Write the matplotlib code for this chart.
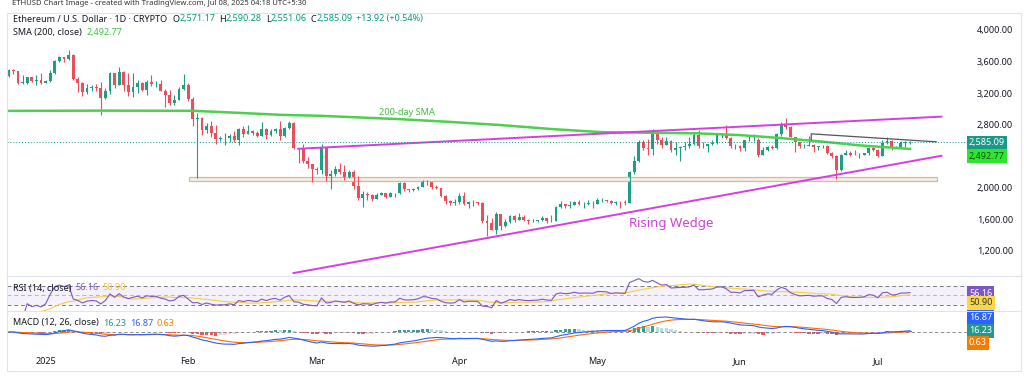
import numpy as np
import pandas as pd
import matplotlib
matplotlib.use("Agg")
import matplotlib.pyplot as plt
import matplotlib.patches as patches

plt.rcParams['font.family'] = ['Noto Sans', 'DejaVu Sans']

# ETH/USD daily candles, 24 Dec 2024 .. 8 Jul 2025 (open = previous close)
first_open = 3418
close = [3492, 3480, 3330, 3333, 3398, 3352, 3361, 3333,
         3355, 3452, 3607, 3657, 3636, 3686, 3381, 3328, 3219, 3266, 3282, 3267, 3135, 3225, 3450, 3307, 3473, 3308, 3216, 3280, 3330, 3241, 3340, 3310, 3315, 3230, 3180, 3080, 3110, 3250, 3300,
         3120, 2869, 2880, 2730, 2786, 2690, 2620, 2630, 2630, 2660, 2600, 2740, 2680, 2720, 2690, 2660, 2740, 2670, 2720, 2740, 2660, 2760, 2820, 2510, 2490, 2340, 2300, 2240,
         2220, 2520, 2150, 2170, 2240, 2200, 2140, 2200, 2020, 1870, 1920, 1910, 1860, 1910, 1940, 1890, 1930, 1930, 2060, 1980, 1970, 1980, 2010, 2080, 2070, 2010, 2000, 1900, 1830, 1810, 1820,
         1900, 1795, 1815, 1815, 1805, 1580, 1555, 1470, 1670, 1520, 1570, 1645, 1595, 1625, 1590, 1575, 1585, 1590, 1615, 1585, 1575, 1755, 1795, 1770, 1785, 1820, 1795, 1800, 1800, 1795,
         1840, 1840, 1835, 1805, 1820, 1815, 1810, 2200, 2345, 2580, 2510, 2490, 2680, 2610, 2545, 2590, 2480, 2500, 2520, 2525, 2550, 2665, 2525, 2530, 2550, 2565, 2665, 2680, 2630, 2530, 2530,
         2510, 2600, 2600, 2610, 2420, 2480, 2520, 2510, 2680, 2815, 2770, 2645, 2575, 2525, 2535, 2545, 2515, 2525, 2525, 2440, 2405, 2230, 2420, 2445, 2420, 2415, 2420, 2435, 2500, 2485,
         2405, 2570, 2590, 2505, 2515, 2570, 2571.17, 2585.09]
high = [3510, 3510, 3480, 3430, 3410, 3410, 3430, 3450,
        3370, 3495, 3617, 3670, 3660, 3745, 3700, 3410, 3340, 3320, 3300, 3310, 3340, 3260, 3470, 3450, 3525, 3480, 3450, 3450, 3360, 3345, 3360, 3430, 3350, 3370, 3250, 3240, 3170, 3280, 3440,
        3330, 3150, 2950, 2900, 2820, 2850, 2790, 2660, 2700, 2680, 2720, 2760, 2780, 2790, 2730, 2720, 2840, 2760, 2740, 2760, 2850, 2770, 2850, 2830, 2510, 2560, 2390, 2300,
        2260, 2550, 2520, 2220, 2280, 2320, 2290, 2230, 2220, 2150, 1960, 1950, 1920, 1940, 1950, 1940, 1950, 1935, 2070, 2070, 1990, 2000, 2020, 2100, 2100, 2075, 2030, 2000, 1910, 1850, 1860,
        1930, 1950, 1830, 1840, 1820, 1820, 1650, 1620, 1690, 1670, 1600, 1650, 1660, 1680, 1660, 1610, 1600, 1595, 1640, 1620, 1660, 1775, 1830, 1800, 1830, 1830, 1840, 1820, 1850, 1830,
        1875, 1870, 1850, 1845, 1835, 1830, 1845, 2210, 2405, 2600, 2600, 2620, 2740, 2720, 2640, 2650, 2600, 2580, 2530, 2580, 2650, 2690, 2730, 2580, 2560, 2600, 2700, 2690, 2790, 2640, 2550,
        2540, 2610, 2660, 2680, 2630, 2520, 2530, 2540, 2690, 2830, 2880, 2780, 2650, 2580, 2550, 2660, 2555, 2530, 2540, 2545, 2450, 2410, 2430, 2480, 2470, 2480, 2440, 2440, 2520, 2520,
        2490, 2600, 2640, 2610, 2530, 2590, 2590, 2590.28]
low = [3400, 3440, 3310, 3310, 3320, 3340, 3300, 3320,
       3330, 3345, 3440, 3595, 3600, 3620, 3360, 3210, 3160, 3190, 3230, 3230, 2920, 3130, 3190, 3270, 3300, 3230, 3160, 3150, 3200, 3230, 3180, 3290, 3280, 3225, 3020, 3050, 3050, 3110, 3240,
       3100, 2780, 2120, 2670, 2700, 2640, 2560, 2590, 2540, 2580, 2580, 2540, 2640, 2680, 2670, 2650, 2660, 2620, 2660, 2700, 2610, 2650, 2740, 2490, 2310, 2320, 2250, 2080,
       2170, 2170, 2090, 1990, 2150, 2170, 2100, 2130, 1990, 1850, 1760, 1840, 1830, 1860, 1905, 1870, 1880, 1880, 1920, 1960, 1945, 1960, 1970, 2005, 2040, 1990, 1990, 1880, 1800, 1780, 1780,
       1800, 1780, 1750, 1770, 1780, 1550, 1385, 1460, 1410, 1470, 1500, 1550, 1570, 1590, 1580, 1540, 1565, 1570, 1580, 1560, 1565, 1575, 1740, 1740, 1740, 1780, 1780, 1740, 1780, 1740,
       1790, 1820, 1825, 1800, 1780, 1750, 1785, 1805, 2170, 2330, 2480, 2410, 2420, 2560, 2500, 2540, 2450, 2420, 2340, 2480, 2500, 2540, 2510, 2510, 2460, 2540, 2550, 2630, 2620, 2500, 2490,
       2470, 2470, 2590, 2590, 2390, 2410, 2470, 2490, 2490, 2660, 2740, 2640, 2450, 2500, 2500, 2530, 2460, 2480, 2505, 2430, 2380, 2110, 2210, 2410, 2400, 2410, 2380, 2410, 2420, 2470,
       2390, 2400, 2560, 2480, 2500, 2510, 2515, 2551.06]

# 200-day SMA read at a few points (day index from 24 Dec, value)
sma_day = [0, 20, 40, 50, 59, 68, 85, 96, 107, 118, 129, 140, 150, 159, 168, 177, 185, 196]
sma_val = [2975, 2978, 2976, 2950, 2925, 2912, 2870, 2835, 2795, 2745, 2705, 2698, 2690, 2668, 2630, 2585, 2538, 2492.77]

# hand drawn trendlines and zone (day index, price)
upper_wedge_day, upper_wedge_price = [63, 202.8], [2495, 2902]
lower_wedge_day, lower_wedge_price = [61.9, 202.8], [920, 2406]
resist_day, resist_price = [174.5, 174.5, 201.7], [2610, 2684, 2583]
zone_day, zone_price = [39.1, 201.9], [2090, 2140]

price_ticks = [1200, 1600, 2000, 2800, 3200, 3600, 4000]
last_price, last_sma = 2585.09, 2492.77
rsi_last, rsi_ma_last = '56.16', '50.90'
hist_last, macd_last, signal_last = '16.23', '16.87', '0.63'

W, H = 1024, 378
UP, DN = '#1e9e85', '#ec4d59'

dates = pd.date_range('2024-12-24', periods=len(close), freq='D')
days = np.arange(len(close))
c = np.array(close, float)
o = np.r_[first_open, c[:-1]]
o[-1] = 2571.17
hi = np.maximum(np.array(high, float), np.maximum(o, c))
lo = np.minimum(np.array(low, float), np.minimum(o, c))
col = np.where(c >= o, UP, DN)

# indicators from the closes
s = pd.Series(c)
d = s.diff().fillna(0)
g = d.clip(lower=0).ewm(alpha=1/14, adjust=True).mean()
l = (-d.clip(upper=0)).ewm(alpha=1/14, adjust=True).mean()
rsi = 100 - 100 / (1 + g / l)
rsi_ma = rsi.rolling(14, min_periods=1).mean()
macd = s.ewm(span=12, adjust=False).mean() - s.ewm(span=26, adjust=False).mean()
sig = macd.ewm(span=9, adjust=False).mean()
hist = (macd - sig).values
prev = np.r_[0, hist[:-1]]
hcol = np.where(hist >= 0, np.where(hist >= prev, '#26a69a', '#b2dfdb'),
                np.where(hist < prev, '#ff5252', '#ffcdd2'))

fig = plt.figure(figsize=(W/100, H/100), dpi=100)
L, R = 7, 968
ax = fig.add_axes([L/W, 1-276/H, (R-L)/W, (276-13)/H])
ax_rsi = fig.add_axes([L/W, 1-311/H, (R-L)/W, 35/H], sharex=ax)
ax_macd = fig.add_axes([L/W, 1-349/H, (R-L)/W, 38/H], sharex=ax)
for a in (ax, ax_rsi, ax_macd):
    for sp in a.spines.values():
        sp.set_visible(False)
    a.tick_params(length=0)

# candles
ax.vlines(days, lo, hi, colors=col, lw=0.8)
ax.bar(days, np.maximum(np.abs(c - o), 5), bottom=np.minimum(o, c), width=0.62, color=col, lw=0)

ax.plot(sma_day, sma_val, color='#4ed04e', lw=1.8)
ax.plot(upper_wedge_day, upper_wedge_price, color='#d53ee0', lw=1.4)
ax.plot(lower_wedge_day, lower_wedge_price, color='#d53ee0', lw=1.4)
ax.plot(resist_day, resist_price, color='#555555', lw=0.9)
ax.add_patch(patches.Rectangle((zone_day[0], zone_price[0]), zone_day[1]-zone_day[0], zone_price[1]-zone_price[0],
                               fc='#f6eee6', ec='#d8b89c', lw=0.9))
ax.axhline(last_price, color='#089981', lw=0.7, ls=(0, (1, 2)))

ax.text(86.5, 2950, '200-day SMA', color='#3fbf3f', fontsize=6.6, ha='center', va='center')
ax.text(144, 1542, 'Rising Wedge', color='#d040d8', fontsize=9.5, ha='center', va='center')

ax.set_xlim(-0.4, 208.6)
ax.set_ylim(883, 4215)
ax.yaxis.tick_right()
ax.set_yticks(price_ticks)
ax.set_yticklabels([f'{v:,.2f}' for v in price_ticks])
ax.tick_params(axis='y', labelsize=6.5, pad=6.5, colors='#131722')
ax.tick_params(axis='x', labelbottom=False)

# RSI
ax_rsi.axhspan(30, 70, color='#7e57c2', alpha=0.08, lw=0)
for lv, al in ((70, 1), (50, 0.5), (30, 1)):
    ax_rsi.axhline(lv, color='#787b86', lw=0.7, ls=(0, (4, 3)), alpha=al)
ax_rsi.plot(days, rsi_ma, color='#f5cf3f', lw=0.8)
ax_rsi.plot(days, rsi, color='#7e57c2', lw=0.8)
ax_rsi.set_ylim(17.4, 91)
ax_rsi.set_yticks([])
ax_rsi.tick_params(axis='x', labelbottom=False)

# MACD
ax_macd.bar(days, hist, width=0.7, color=hcol, lw=0)
ax_macd.axhline(0, color='#787b86', lw=0.6, ls=(0, (4, 3)))
ax_macd.plot(days, sig, color='#ff6d00', lw=0.8)
ax_macd.plot(days, macd, color='#2962ff', lw=0.8)
span = macd.max() / (0.842 - 0.447)
ax_macd.set_ylim(-0.447*span, 0.553*span)
ax_macd.set_yticks([])

first = np.where(dates.day == 1)[0]
ax_macd.set_xticks(first)
ax_macd.set_xticklabels(['2025' if dates[i].month == 1 else dates[i].strftime('%b') for i in first])
ax_macd.tick_params(axis='x', labelsize=6.5, pad=6, colors='#131722')
ax_macd.get_xticklabels()[0].set_fontweight('bold')

# value boxes on the right scale
def box(a, yf, txt, fc, tc='white'):
    a.text(1.001, yf, txt, transform=a.transAxes, ha='left', va='center', fontsize=6.5, color=tc,
           bbox=dict(boxstyle='square,pad=0.25', fc=fc, ec='none'))

box(ax, 0.506, f'{last_price:,.2f}', '#1a9a86')
box(ax, 0.456, f'{last_sma:,.2f}', '#2ee62e', '#184d18')
box(ax_rsi, 0.514, rsi_last, '#7e57c2')
box(ax_rsi, 0.229, rsi_ma_last, '#fbd745', '#333333')
box(ax_macd, 0.842, macd_last, '#2962ff')
box(ax_macd, 0.474, hist_last, '#22998a')
box(ax_macd, 0.158, signal_last, '#f57c00')

# legend rows, pieces laid out one after another
rend = fig.canvas.get_renderer()
def row(x, y, parts, size=6.5):
    for txt, cl, gap in parts:
        t = fig.text(x / W, 1 - y / H, txt, color=cl, fontsize=size, va='center')
        x += t.get_window_extent(rend).width + gap

dk, gr = '#131722', '#089981'
row(13, 19, [('Ethereum / U.S. Dollar · 1D · CRYPTO', dk, 5), ('O', dk, 0), ('2,571.17', gr, 4),
             ('H', dk, 0), ('2,590.28', gr, 4), ('L', dk, 0), ('2,551.06', gr, 4),
             ('C', dk, 0), ('2,585.09', gr, 4), ('+13.92 (+0.54%)', gr, 0)])
row(13, 33, [('SMA (200, close)', dk, 5), (f'{last_sma:,.2f}', '#3fc43f', 0)])
row(13, 288, [('RSI (14, close)', dk, 4), (rsi_last, '#7e57c2', 4), (rsi_ma_last, '#f2c530', 0)])
row(13, 323, [('MACD (12, 26, close)', dk, 4), (hist_last, '#22998a', 4), (macd_last, '#2962ff', 4),
              (signal_last, '#f57c00', 0)])

# small caption above the chart frame
fig.text(0.012, 0.999, 'ETHUSD Chart Image - created with TradingView.com, Jul 08, 2025 04:18 UTC+5:30',
         fontsize=5.5, color='#333333', va='top')

# frame and panel separators
fig.add_artist(patches.Rectangle((7/W, 1-371/H), (1021-7)/W, (371-13)/H, transform=fig.transFigure,
                                 fill=False, ec='#e0e3eb', lw=0.8))
for yy in (276, 311):
    fig.add_artist(plt.Line2D([7/W, 1021/W], [1-yy/H, 1-yy/H], transform=fig.transFigure, color='#e0e3eb', lw=0.8))

fig.savefig('out.png', dpi=100)
